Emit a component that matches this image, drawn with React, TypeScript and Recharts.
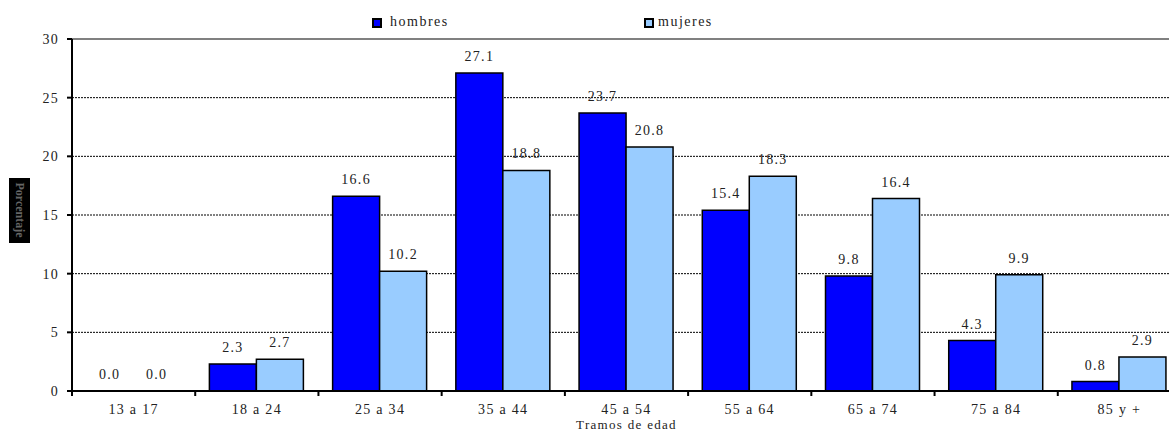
import React from 'react';
import { BarChart, Bar, XAxis, YAxis, CartesianGrid, ReferenceLine, LabelList, Label } from 'recharts';

const categories = ['13 a 17', '18 a 24', '25 a 34', '35 a 44', '45 a 54', '55 a 64', '65 a 74', '75 a 84', '85 y +'];
const hombres = [0.0, 2.3, 16.6, 27.1, 23.7, 15.4, 9.8, 4.3, 0.8];
const mujeres = [0.0, 2.7, 10.2, 18.8, 20.8, 18.3, 16.4, 9.9, 2.9];
const yTicks = [0, 5, 10, 15, 20, 25, 30];

const data = categories.map((c, i) => ({ cat: c, hombres: hombres[i], mujeres: mujeres[i] }));

const FONT = '"Liberation Serif", "Times New Roman", serif';
const CHART_W = 1200;
const CHART_H = 430;
const MARGIN = { top: 39, right: 19, bottom: 9, left: 0 };
const Y_W = 72;
const PLOT_W = CHART_W - MARGIN.right - MARGIN.left - Y_W;
const BAND = PLOT_W / categories.length;

const XTick = (props: any) => {
  const { x, y, payload } = props;
  const bx = x - BAND / 2;
  return (
    <g>
      <line x1={bx} x2={bx} y1={y} y2={y + 5} stroke="#000" strokeWidth={2} />
      <text x={x} y={y + 18} dy="0.35em" textAnchor="middle" fontFamily={FONT} fontSize={14} letterSpacing={1.3} fill="#222">
        {payload.value}
      </text>
    </g>
  );
};

const YTick = (props: any) => {
  const { x, y, payload } = props;
  return (
    <text x={x} y={y} dy="0.35em" textAnchor="end" fontFamily={FONT} fontSize={14} letterSpacing={1.3} fill="#222">
      {payload.value}
    </text>
  );
};

const YTitle = () => (
  <g>
    <rect x={9} y={178} width={21} height={65} fill="#000" />
    <text
      x={0}
      y={0}
      transform="translate(20,210) rotate(90)"
      textAnchor="middle"
      dy="0.35em"
      fontFamily={FONT}
      fontSize={12}
      fontWeight="bold"
      fill="#666"
    >
      Porcentaje
    </text>
  </g>
);

const LegendBox = () => (
  <div style={{ position: 'absolute', left: 0, top: 0, width: 1169, height: 39, fontFamily: FONT, fontSize: 14, letterSpacing: 1.5, color: '#222', pointerEvents: 'none' }}>
    <div style={{ position: 'absolute', left: 372, top: 18, width: 6, height: 6, background: '#0000FF', border: '2px solid #000' }} />
    <div style={{ position: 'absolute', left: 390, top: 13, lineHeight: '18px' }}>hombres</div>
    <div style={{ position: 'absolute', left: 644, top: 18, width: 6, height: 6, background: '#99CCFF', border: '2px solid #000' }} />
    <div style={{ position: 'absolute', left: 658, top: 13, lineHeight: '18px' }}>mujeres</div>
  </div>
);

const fmt = (v: any) => Number(v).toFixed(1);

export default function App() {
  return (
    <div style={{ position: 'fixed', left: 0, top: 0, width: 1169, height: 430, overflow: 'hidden', background: '#fff' }}>
      <BarChart width={CHART_W} height={CHART_H} data={data} margin={MARGIN} barCategoryGap="11.5%" barGap={0}>
        <CartesianGrid vertical={false} stroke="#000" strokeDasharray="2 1" strokeWidth={1} />
        <XAxis
          dataKey="cat"
          height={30}
          tick={<XTick />}
          tickLine={false}
          tickSize={0}
          tickMargin={0}
          axisLine={{ stroke: '#000', strokeWidth: 2 }}
          interval={0}
        >
          <Label value="Tramos de edad" position="bottom" offset={-1} fontFamily={FONT} fontSize={13} letterSpacing={1.3} fill="#222" />
        </XAxis>
        <YAxis
          width={Y_W}
          domain={[0, 30]}
          ticks={yTicks}
          interval={0}
          tick={<YTick />}
          tickSize={5}
          tickMargin={8}
          tickLine={{ stroke: '#000', strokeWidth: 2 }}
          axisLine={{ stroke: '#000', strokeWidth: 2 }}
          label={<YTitle />}
        />
        <ReferenceLine y={30} stroke="#808080" strokeWidth={2} />
        <Bar dataKey="hombres" fill="#0000FF" stroke="#000" strokeWidth={1.5} minPointSize={0.01} isAnimationActive={false}>
          <LabelList dataKey="hombres" position="top" offset={12} formatter={fmt} fontFamily={FONT} fontSize={14} letterSpacing={1.3} fill="#222" />
        </Bar>
        <Bar dataKey="mujeres" fill="#99CCFF" stroke="#000" strokeWidth={1.5} minPointSize={0.01} isAnimationActive={false}>
          <LabelList dataKey="mujeres" position="top" offset={12} formatter={fmt} fontFamily={FONT} fontSize={14} letterSpacing={1.3} fill="#222" />
        </Bar>
      </BarChart>
      <LegendBox />
    </div>
  );
}
